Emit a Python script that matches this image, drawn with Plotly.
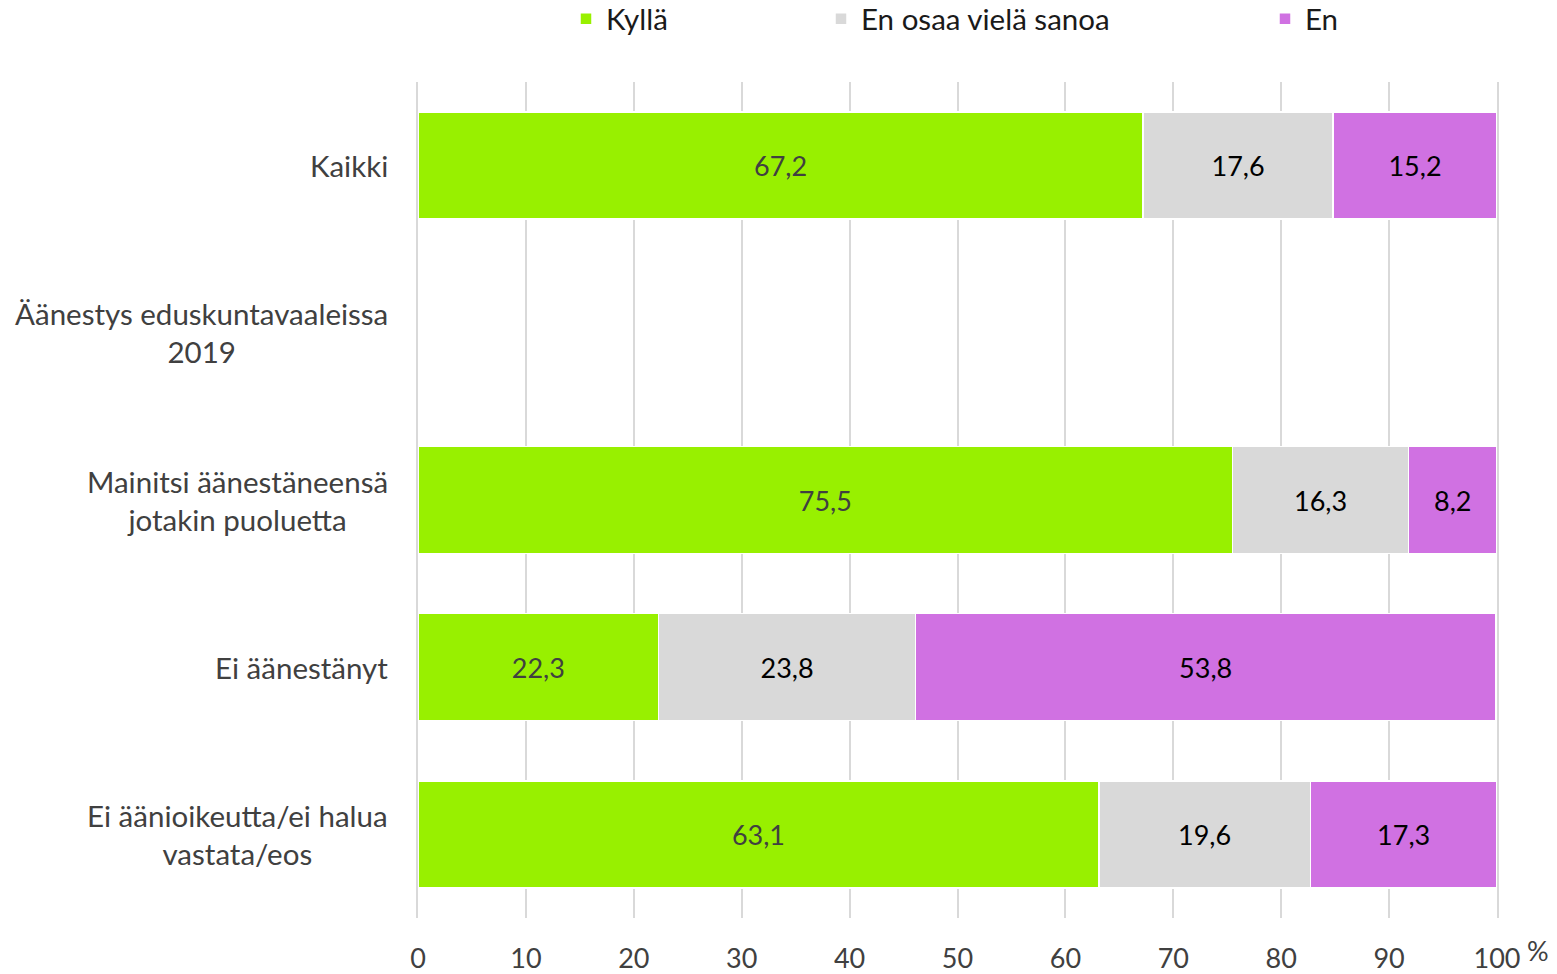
import plotly.graph_objects as go

categories = ["Kaikki", "Äänestys eduskuntavaaleissa 2019", "Mainitsi äänestäneensä jotakin puoluetta",
              "Ei äänestänyt", "Ei äänioikeutta/ei halua vastata/eos"]
category_labels = ["Kaikki", "Äänestys eduskuntavaaleissa<br>2019", "Mainitsi äänestäneensä<br>jotakin puoluetta",
                   "Ei äänestänyt", "Ei äänioikeutta/ei halua<br>vastata/eos"]
kylla = [67.2, None, 75.5, 22.3, 63.1]
en_osaa = [17.6, None, 16.3, 23.8, 19.6]
en = [15.2, None, 8.2, 53.8, 17.3]
series_names = ["Kyllä", "En osaa vielä sanoa", "En"]
x_ticks = [0, 10, 20, 30, 40, 50, 60, 70, 80, 90, 100]

colors = ["#98F000", "#D9D9D9", "#D071E2"]
label_colors = ["#404040", "#000000", "#000000"]
legend_ids = ["legend", "legend2", "legend3"]
legend_left_px = [566, 821, 1265]

FONT = "Lato"
W, H = 1557, 974

fig = go.Figure()
for name, vals, col, lc, lg in zip(series_names, [kylla, en_osaa, en], colors, label_colors, legend_ids):
    fig.add_trace(go.Bar(
        y=categories, x=vals, name=name, orientation="h",
        marker=dict(color=col, line=dict(color="white", width=1.5)),
        texttemplate="%{x:.1f}", textposition="inside", insidetextanchor="middle",
        textangle=0, textfont=dict(family=FONT, size=27, color=lc),
        legend=lg, hoverinfo="skip",
    ))

for cat, lab in zip(categories, category_labels):
    fig.add_annotation(x=0, xref="paper", y=cat, yref="y", text=lab, showarrow=False,
                       xanchor="right", yanchor="middle", align="center", xshift=-28,
                       font=dict(family=FONT, size=29.5, color="#404040"))

fig.add_annotation(x=1, xref="paper", y=0, yref="paper", text="%", showarrow=False,
                   xanchor="left", yanchor="middle", xshift=28, yshift=-32,
                   font=dict(family=FONT, size=27, color="#404040"))

layout_legends = {}
for lg, left in zip(legend_ids, legend_left_px):
    layout_legends[lg] = dict(
        x=left / W, xref="container", xanchor="left",
        y=1 - 19 / H, yref="container", yanchor="middle",
        orientation="h", font=dict(family=FONT, size=29.5, color="#1a1a1a"),
        bgcolor="rgba(0,0,0,0)", itemclick=False, itemdoubleclick=False,
    )

fig.update_layout(
    width=W, height=H, barmode="stack", bargap=0.36,
    separators=", ",
    plot_bgcolor="white", paper_bgcolor="white",
    margin=dict(l=418, r=60, t=82, b=56),
    font=dict(family=FONT, size=27, color="#404040"),
    showlegend=True,
    xaxis=dict(range=[0, 100], tickvals=x_ticks, ticktext=[str(v) for v in x_ticks],
               showgrid=True, gridcolor="#D9D9D9", gridwidth=1.5, zeroline=False,
               showline=False, ticks="", ticklabelstandoff=22, automargin=False,
               tickfont=dict(family=FONT, size=27, color="#404040"), fixedrange=True),
    yaxis=dict(categoryorder="array", categoryarray=categories, autorange="reversed",
               showticklabels=False, showgrid=False, zeroline=False,
               showline=True, mirror=True, linecolor="#D9D9D9", linewidth=1.5,
               layer="below traces",
               ticks="", fixedrange=True, automargin=False),
)
fig.update_layout(**layout_legends)

fig.write_html("out.html", config={"displayModeBar": False},
               post_script="document.body.style.margin='0';")
